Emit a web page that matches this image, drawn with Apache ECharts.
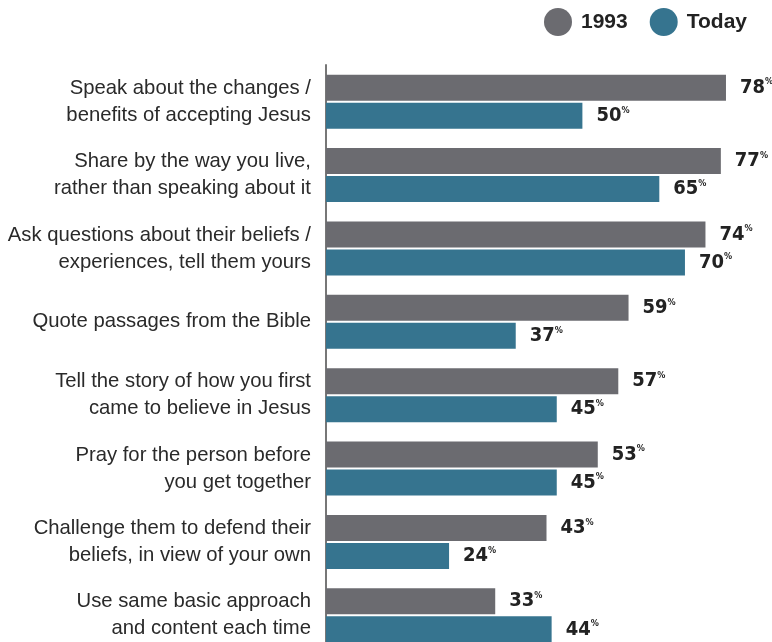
<!DOCTYPE html>
<html><head><meta charset="utf-8">
<script src="https://cdn.jsdelivr.net/npm/echarts@6/dist/echarts.min.js"></script>
<style>html,body{margin:0;padding:0;background:#fff;overflow:hidden}#c{width:772px;height:660px}</style>
</head><body><div id="c"></div>
<script>
const categories = [
  "Speak about the changes /\nbenefits of accepting Jesus",
  "Share by the way you live,\nrather than speaking about it",
  "Ask questions about their beliefs /\nexperiences, tell them yours",
  "Quote passages from the Bible",
  "Tell the story of how you first\ncame to believe in Jesus",
  "Pray for the person before\nyou get together",
  "Challenge them to defend their\nbeliefs, in view of your own",
  "Use same basic approach\nand content each time"
];
const values1993 = [78, 77, 74, 59, 57, 53, 43, 33];
const valuesToday = [50, 65, 70, 37, 45, 45, 24, 44];
const seriesNames = ["1993", "Today"];

const chart = echarts.init(document.getElementById('c'));
const valFont = "'Liberation Sans Narrow','DejaVu Sans Condensed',sans-serif";
const lbl = {
  show: true, position: 'right', distance: 14,
  formatter: p => '{n|' + p.value + '}{p|%}',
  rich: {
    n: {fontFamily: valFont, fontWeight: 'bold', fontSize: 20, color: '#222', verticalAlign: 'bottom'},
    p: {fontFamily: valFont, fontWeight: 'bold', fontSize: 9, color: '#222', verticalAlign: 'top', padding: [0,0,10,0]}
  }
};
chart.setOption({
  animation: false,
  legend: {
    top: 3, right: 20, icon: 'circle', itemWidth: 28, itemHeight: 28, itemGap: 22,
    textStyle: {fontFamily: "'Liberation Sans',Arial,sans-serif", fontWeight: 'bold', fontSize: 21, color: '#222', padding: [0,0,0,4]},
    data: seriesNames
  },
  grid: {left: 326, top: 65, bottom: 8, right: 5, containLabel: false},
  xAxis: {type: 'value', min: 0, max: 86, show: false},
  yAxis: {
    type: 'category', data: categories, inverse: true,
    axisLine: {show: true, lineStyle: {color: '#777', width: 2}},
    axisTick: {show: false},
    axisLabel: {margin: 15, fontFamily: "'Liberation Sans',Arial,sans-serif", fontSize: 20.3, color: '#2a2a2a', lineHeight: 27, align: 'right'}
  },
  series: [
    {name: seriesNames[0], type: 'bar', data: values1993, barWidth: 26, barGap: '8%', itemStyle: {color: '#6b6b70'}, label: lbl},
    {name: seriesNames[1], type: 'bar', data: valuesToday, barWidth: 26, itemStyle: {color: '#36748f'}, label: lbl}
  ]
});
</script></body></html>
